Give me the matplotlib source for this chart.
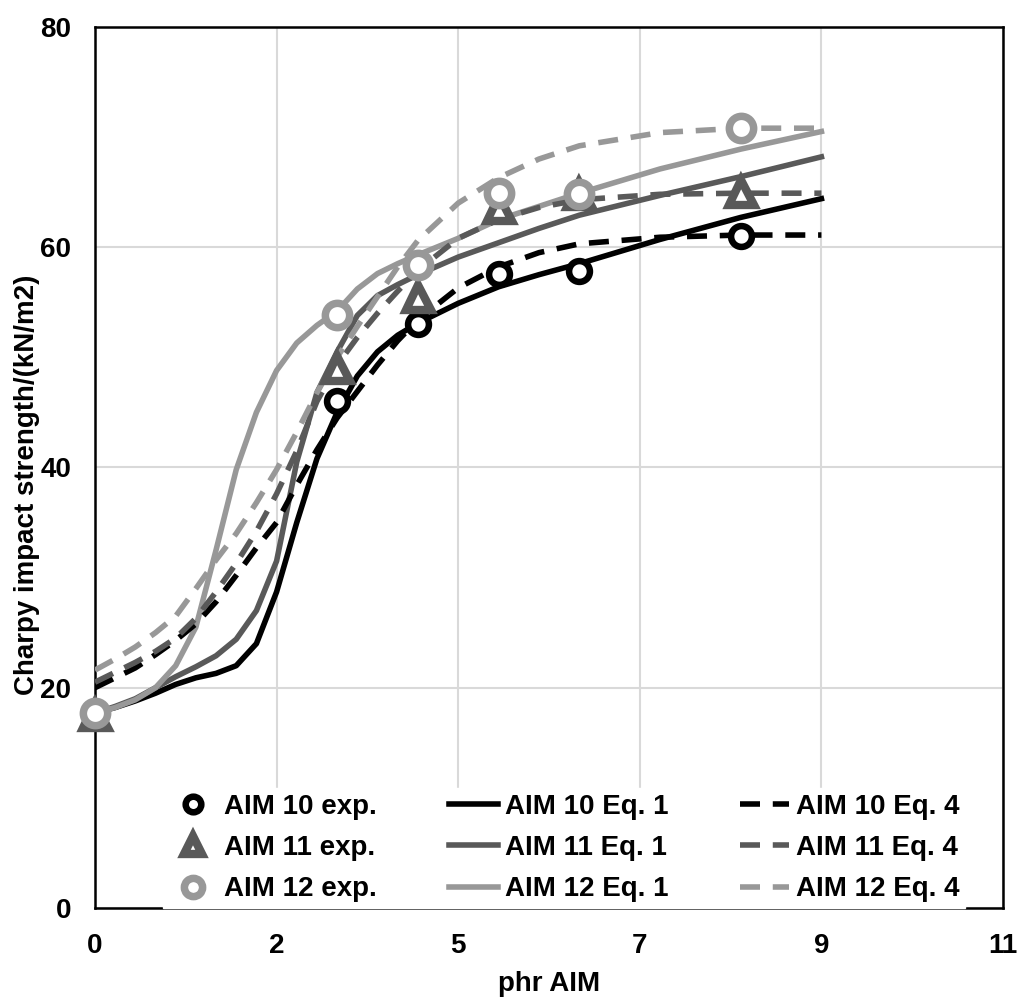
import numpy as np
from matplotlib import pyplot as plt

plt.rcParams['font.family'] = ['Liberation Sans', 'DejaVu Sans']
plt.rcParams['font.weight'] = 'bold'

# experimental points
exp_x = [0, 3, 4, 5, 6, 8]
aim10_exp = [17.7, 46.0, 53.0, 57.6, 57.8, 61.0]
aim11_exp = [17.5, 49.0, 55.5, 63.6, 64.8, 65.0]
aim12_exp = [17.7, 53.8, 58.4, 64.9, 64.8, 70.8]

# model curves
fit_x = [0, 0.25, 0.5, 0.75, 1, 1.25, 1.5, 1.75, 2, 2.25, 2.5, 2.75, 3,
         3.25, 3.5, 3.75, 4, 4.5, 5, 5.5, 6, 7, 8, 9]
aim10_eq1 = [17.7, 18.2, 18.8, 19.5, 20.3, 20.9, 21.3, 22.0, 24.0, 28.7, 35.0,
             40.8, 45.0, 48.3, 50.5, 52.0, 53.1, 54.9, 56.4, 57.5, 58.5, 60.7,
             62.7, 64.4]
aim11_eq1 = [17.7, 18.3, 19.0, 20.0, 21.0, 21.9, 22.9, 24.4, 27.0, 31.5, 40.5,
             46.8, 50.5, 53.8, 55.6, 56.6, 57.5, 59.1, 60.4, 61.7, 62.9, 64.7,
             66.4, 68.2]
aim12_eq1 = [17.7, 18.2, 18.9, 20.0, 22.0, 25.5, 32.5, 39.8, 45.0, 48.8, 51.3,
             52.9, 54.2, 56.2, 57.6, 58.5, 59.3, 60.8, 62.5, 63.7, 64.9, 67.1,
             68.9, 70.5]
aim10_eq4 = [20.0, 20.9, 21.8, 23.0, 24.3, 25.8, 27.8, 30.2, 32.7, 35.0, 38.4,
             41.6, 44.5, 46.9, 49.3, 51.5, 53.4, 56.3, 58.2, 59.5, 60.3, 60.9,
             61.1, 61.1]
aim11_eq4 = [20.5, 21.4, 22.3, 23.3, 24.5, 26.3, 28.7, 31.3, 34.2, 37.6, 41.5,
             46.0, 49.3, 51.8, 54.0, 56.0, 57.9, 60.8, 62.5, 63.6, 64.3, 64.8,
             64.9, 64.9]
aim12_eq4 = [21.6, 22.6, 23.7, 25.0, 26.5, 29.0, 31.6, 34.0, 36.8, 39.8, 43.2,
             46.8, 50.0, 52.8, 55.5, 58.2, 60.6, 64.0, 66.3, 68.0, 69.2, 70.4,
             70.8, 70.8]

xticks = [0, 2.25, 4.5, 6.75, 9, 11.25]
xtick_labels = ['0', '2', '5', '7', '9', '11']
yticks = [0, 20, 40, 60, 80]

black = '#000000'
dgrey = '#595959'
lgrey = '#989898'
lw = 4.0
dash = (3.6, 2.3)

fig = plt.figure(figsize=(10.18, 9.99), dpi=100)
ax = fig.add_axes([0.0933, 0.0911, 0.892, 0.882])

h_e10, = ax.plot(exp_x, aim10_exp, ls='none', marker='o', ms=15, mew=4.7,
                 mec=black, mfc='white', zorder=5, clip_on=False)
h_e11, = ax.plot(exp_x, aim11_exp, ls='none', marker='^', ms=18, mew=6.0,
                 mec=dgrey, mfc='white', zorder=6, clip_on=False)
h_e12, = ax.plot(exp_x, aim12_exp, ls='none', marker='o', ms=17.5, mew=5.4,
                 mec=lgrey, mfc='white', zorder=7, clip_on=False)

h_a10, = ax.plot(fit_x, aim10_eq1, color=black, lw=lw, zorder=3)
h_a11, = ax.plot(fit_x, aim11_eq1, color=dgrey, lw=lw, zorder=3)
h_a12, = ax.plot(fit_x, aim12_eq1, color=lgrey, lw=lw, zorder=3)
h_b10, = ax.plot(fit_x, aim10_eq4, color=black, lw=lw, dashes=dash, zorder=4)
h_b11, = ax.plot(fit_x, aim11_eq4, color=dgrey, lw=lw, dashes=dash, zorder=4)
h_b12, = ax.plot(fit_x, aim12_eq4, color=lgrey, lw=lw, dashes=dash, zorder=4)

ax.set_xlim(0, 11.25)
ax.set_ylim(0, 80)
ax.set_xticks(xticks)
ax.set_xticklabels(xtick_labels)
ax.set_yticks(yticks)
ax.tick_params(length=0, labelsize=20)
ax.tick_params(axis='x', pad=18)
ax.tick_params(axis='y', pad=17)
ax.grid(color='#d9d9d9', lw=1.5)
ax.set_axisbelow(True)
for s in ax.spines.values():
    s.set_linewidth(1.8)
    s.set_color('black')

ax.set_xlabel('phr AIM', fontsize=20, fontweight='bold')
ax.set_ylabel('Charpy impact strength/(kN/m2)', fontsize=20, fontweight='bold')
ax.xaxis.set_label_coords(0.5, -0.072)
ax.yaxis.set_label_coords(-0.061, 0.48)

handles = [h_e10, h_e11, h_e12, h_a10, h_a11, h_a12, h_b10, h_b11, h_b12]
labels = ['AIM 10 exp.', 'AIM 11 exp.', 'AIM 12 exp.',
          'AIM 10 Eq. 1', 'AIM 11 Eq. 1', 'AIM 12 Eq. 1',
          'AIM 10 Eq. 4', 'AIM 11 Eq. 4', 'AIM 12 Eq. 4']
leg = ax.legend(handles, labels, ncol=3, loc='lower left',
                bbox_to_anchor=(0.075, 0.0), borderaxespad=0,
                fontsize=20, frameon=True, fancybox=False, framealpha=1,
                edgecolor='white', handlelength=1.75, handletextpad=0.25,
                columnspacing=2.6, labelspacing=0.55, borderpad=0.2,
                markerscale=0.75)
leg.set_zorder(10)
for t in leg.get_texts():
    t.set_fontweight('bold')

plt.savefig('out.png')
